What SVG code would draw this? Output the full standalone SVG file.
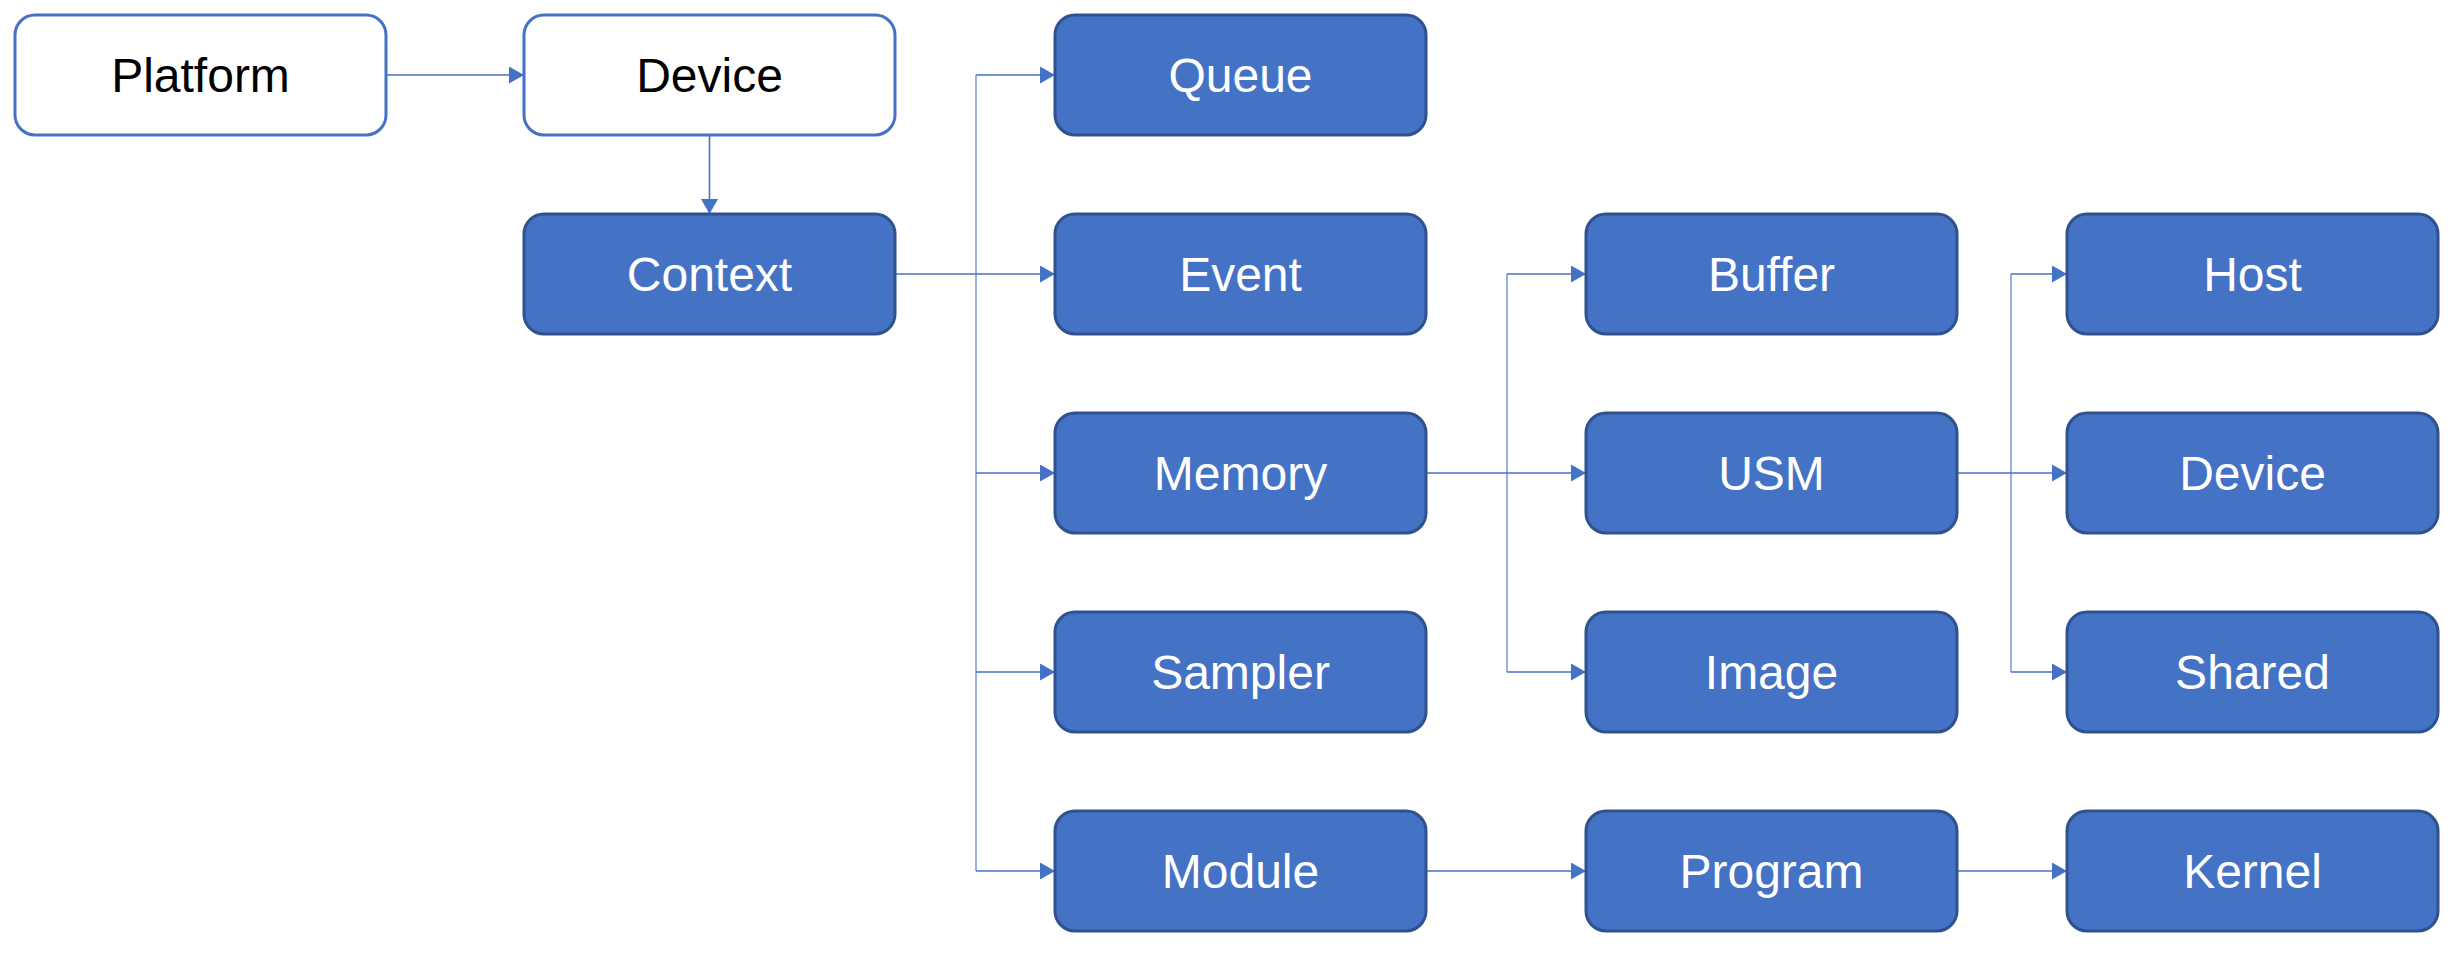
<svg xmlns="http://www.w3.org/2000/svg" width="2455" height="953" viewBox="0 0 2455 953">
<style>
.box{fill:#4472C4;stroke:#2F528F;stroke-width:3}
.wbox{fill:#FFFFFF;stroke:#4472C4;stroke-width:3}
.t{font-family:"Liberation Sans",Arial,sans-serif;font-size:48px;fill:#FFFFFF;text-anchor:middle}
.tb{font-family:"Liberation Sans",Arial,sans-serif;font-size:48px;fill:#000000;text-anchor:middle}
.c{fill:none;stroke:#4472C4;stroke-width:1.6}
.tr{fill:none;stroke:#7F9FD6;stroke-width:1.6}
</style>
<defs>
<marker id="ah" markerUnits="userSpaceOnUse" markerWidth="15" markerHeight="17" refX="15" refY="8.5" orient="auto">
<path d="M0,0 L15,8.5 L0,17 z" fill="#4472C4"/>
</marker>
</defs>
<g id="connectors">
<line class="c" x1="386" y1="75" x2="524" y2="75" marker-end="url(#ah)"/>
<line class="c" x1="709.5" y1="135" x2="709.5" y2="214" marker-end="url(#ah)"/>
<line class="tr" x1="976" y1="75" x2="976" y2="871"/>
<line class="c" x1="895" y1="274" x2="1055" y2="274" marker-end="url(#ah)"/>
<line class="c" x1="976" y1="75" x2="1055" y2="75" marker-end="url(#ah)"/>
<line class="c" x1="976" y1="473" x2="1055" y2="473" marker-end="url(#ah)"/>
<line class="c" x1="976" y1="672" x2="1055" y2="672" marker-end="url(#ah)"/>
<line class="c" x1="976" y1="871" x2="1055" y2="871" marker-end="url(#ah)"/>
<line class="tr" x1="1507" y1="274" x2="1507" y2="672"/>
<line class="c" x1="1426" y1="473" x2="1586" y2="473" marker-end="url(#ah)"/>
<line class="c" x1="1507" y1="274" x2="1586" y2="274" marker-end="url(#ah)"/>
<line class="c" x1="1507" y1="672" x2="1586" y2="672" marker-end="url(#ah)"/>
<line class="tr" x1="2011" y1="274" x2="2011" y2="672"/>
<line class="c" x1="1957" y1="473" x2="2067" y2="473" marker-end="url(#ah)"/>
<line class="c" x1="2011" y1="274" x2="2067" y2="274" marker-end="url(#ah)"/>
<line class="c" x1="2011" y1="672" x2="2067" y2="672" marker-end="url(#ah)"/>
<line class="c" x1="1426" y1="871" x2="1586" y2="871" marker-end="url(#ah)"/>
<line class="c" x1="1957" y1="871" x2="2067" y2="871" marker-end="url(#ah)"/>
</g>
<g id="platform"><rect class="wbox" x="15" y="15" width="371" height="120" rx="20"/><text class="tb" x="200.5" y="92">Platform</text></g>
<g id="device"><rect class="wbox" x="524" y="15" width="371" height="120" rx="20"/><text class="tb" x="709.5" y="92">Device</text></g>
<g id="context"><rect class="box" x="524" y="214" width="371" height="120" rx="20"/><text class="t" x="709.5" y="291">Context</text></g>
<g id="queue"><rect class="box" x="1055" y="15" width="371" height="120" rx="20"/><text class="t" x="1240.5" y="92">Queue</text></g>
<g id="event"><rect class="box" x="1055" y="214" width="371" height="120" rx="20"/><text class="t" x="1240.5" y="291">Event</text></g>
<g id="memory"><rect class="box" x="1055" y="413" width="371" height="120" rx="20"/><text class="t" x="1240.5" y="490">Memory</text></g>
<g id="sampler"><rect class="box" x="1055" y="612" width="371" height="120" rx="20"/><text class="t" x="1240.5" y="689">Sampler</text></g>
<g id="module"><rect class="box" x="1055" y="811" width="371" height="120" rx="20"/><text class="t" x="1240.5" y="888">Module</text></g>
<g id="buffer"><rect class="box" x="1586" y="214" width="371" height="120" rx="20"/><text class="t" x="1771.5" y="291">Buffer</text></g>
<g id="usm"><rect class="box" x="1586" y="413" width="371" height="120" rx="20"/><text class="t" x="1771.5" y="490">USM</text></g>
<g id="image"><rect class="box" x="1586" y="612" width="371" height="120" rx="20"/><text class="t" x="1771.5" y="689">Image</text></g>
<g id="program"><rect class="box" x="1586" y="811" width="371" height="120" rx="20"/><text class="t" x="1771.5" y="888">Program</text></g>
<g id="host"><rect class="box" x="2067" y="214" width="371" height="120" rx="20"/><text class="t" x="2252.5" y="291">Host</text></g>
<g id="usm-device"><rect class="box" x="2067" y="413" width="371" height="120" rx="20"/><text class="t" x="2252.5" y="490">Device</text></g>
<g id="shared"><rect class="box" x="2067" y="612" width="371" height="120" rx="20"/><text class="t" x="2252.5" y="689">Shared</text></g>
<g id="kernel"><rect class="box" x="2067" y="811" width="371" height="120" rx="20"/><text class="t" x="2252.5" y="888">Kernel</text></g>
</svg>
